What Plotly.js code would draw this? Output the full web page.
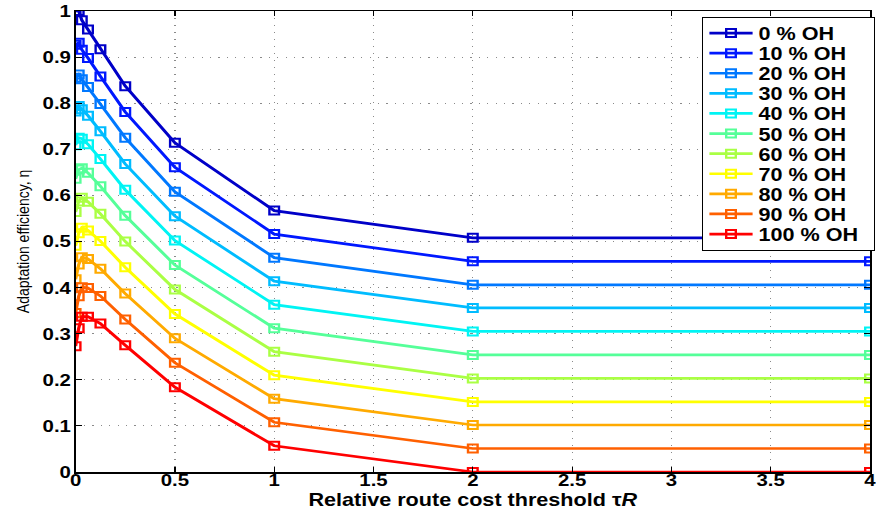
<!DOCTYPE html>
<html>
<head>
<meta charset="utf-8">
<script src="https://cdn.plot.ly/plotly-3.0.1.min.js"></script>
<style>
html,body{margin:0;padding:0;background:#fff;overflow:hidden;}
#chart{width:730px;height:515px;transform:scaleX(1.2);transform-origin:0 0;}
</style>
</head>
<body>
<div id="chart"></div>
<script>
// x values: relative route cost threshold
const tau = [0, 1/64, 1/32, 1/16, 1/8, 1/4, 1/2, 1, 2, 4];

const seriesNames = ["0 % OH","10 % OH","20 % OH","30 % OH","40 % OH","50 % OH","60 % OH","70 % OH","80 % OH","90 % OH","100 % OH"];

const oh0   = [1.000, 1.000, 0.980, 0.960, 0.917, 0.837, 0.714, 0.567, 0.508, 0.508];
const oh10  = [0.927, 0.931, 0.916, 0.898, 0.858, 0.781, 0.661, 0.516, 0.457, 0.457];
const oh20  = [0.855, 0.862, 0.852, 0.835, 0.798, 0.725, 0.608, 0.465, 0.406, 0.406];
const oh30  = [0.782, 0.794, 0.787, 0.773, 0.739, 0.668, 0.555, 0.414, 0.356, 0.356];
const oh40  = [0.709, 0.725, 0.723, 0.711, 0.679, 0.612, 0.502, 0.363, 0.305, 0.305];
const oh50  = [0.636, 0.656, 0.659, 0.649, 0.620, 0.556, 0.449, 0.312, 0.254, 0.254];
const oh60  = [0.564, 0.587, 0.595, 0.586, 0.560, 0.500, 0.396, 0.261, 0.203, 0.203];
const oh70  = [0.491, 0.518, 0.530, 0.524, 0.501, 0.444, 0.343, 0.210, 0.152, 0.152];
const oh80  = [0.418, 0.450, 0.466, 0.462, 0.441, 0.387, 0.290, 0.159, 0.102, 0.102];
const oh90  = [0.345, 0.381, 0.401, 0.399, 0.382, 0.331, 0.237, 0.108, 0.051, 0.051];
const oh100 = [0.273, 0.312, 0.337, 0.337, 0.322, 0.275, 0.184, 0.057, 0.000, 0.000];

const allSeries = [oh0, oh10, oh20, oh30, oh40, oh50, oh60, oh70, oh80, oh90, oh100];
const colors = ["#0000c8","#0018ff","#0078ff","#00bcff","#00f4f4","#55ff99","#aaff44","#ffff00","#ffaa00","#ff6000","#ff0000"];

const xTicks = [0, 0.5, 1, 1.5, 2, 2.5, 3, 3.5, 4];
const xTickText = ["0","0.5","1","1.5","2","2.5","3","3.5","4"];
const yTicks = [0, 0.1, 0.2, 0.3, 0.4, 0.5, 0.6, 0.7, 0.8, 0.9, 1];
const yTickText = ["0","0.1","0.2","0.3","0.4","0.5","0.6","0.7","0.8","0.9","1"];

const FONT = "Liberation Sans, Arial, sans-serif";
const LEGEND_STEP = 20.1;   // vertical spacing of legend entries (px)
const LEGEND_WIDTH = 143;   // legend box width (px, before horizontal stretch)

const traces = allSeries.map((vals, i) => ({
  x: tau,
  y: vals,
  name: seriesNames[i],
  type: "scatter",
  mode: "lines+markers",
  line: {color: colors[i], width: 2.7},
  marker: {symbol: "square-open", size: 8, color: colors[i], line: {width: 2, color: colors[i]}},
  cliponaxis: true
}));

const axisCommon = {
  tickmode: "array",
  ticks: "inside",
  ticklen: 5,
  tickwidth: 1,
  tickcolor: "#000",
  tickfont: {family: FONT, size: 17, weight: "bold", color: "#000"},
  ticklabeloverflow: "allow",
  showline: true,
  linecolor: "#000",
  linewidth: 1.5,
  mirror: "ticks",
  showgrid: true,
  gridcolor: "#8a8a8a",
  griddash: "1px,6px",
  gridwidth: 1,
  zeroline: false,
  automargin: false
};

const layout = {
  width: 730,
  height: 515,
  margin: {l: 62.5, r: 5, t: 11, b: 43, pad: 0, autoexpand: false},
  paper_bgcolor: "#ffffff",
  plot_bgcolor: "#ffffff",
  showlegend: true,
  font: {family: FONT, color: "#000"},
  xaxis: Object.assign({}, axisCommon, {
    range: [0, 4],
    tickvals: xTicks,
    ticktext: xTickText,
    ticklabelstandoff: -8,
    title: {text: "Relative route cost threshold τ<i>R</i>", font: {family: FONT, size: 18, weight: "bold", color: "#000"}, standoff: 4}
  }),
  yaxis: Object.assign({}, axisCommon, {
    range: [0, 1],
    tickvals: yTicks,
    ticktext: yTickText,
    ticklabelstandoff: -1,
    title: {text: "Adaptation efficiency, η", font: {family: FONT, size: 14, color: "#000"}, standoff: 7}
  }),
  legend: {
    x: 1.0063,
    xanchor: "right",
    y: 0.987,
    yanchor: "top",
    bgcolor: "#ffffff",
    bordercolor: "#000",
    borderwidth: 1,
    font: {family: FONT, size: 18, weight: "bold", color: "#000"},
    tracegroupgap: 0,
    itemwidth: 36
  }
};

function parseT(s) {
  const m = /translate\(\s*([-\d.e]+)[ ,]+([-\d.e]+)\s*\)/.exec(s || "");
  return m ? [parseFloat(m[1]), parseFloat(m[2])] : [0, 0];
}

Plotly.newPlot("chart", traces, layout, {displayModeBar: false, staticPlot: true}).then(function (gd) {
  const leg = gd.querySelector(".legend");
  if (!leg) return;
  const items = Array.from(leg.querySelectorAll("g.traces"));
  if (items.length < 2) return;
  const pos = items.map(it => parseT(it.getAttribute("transform")));
  const oldStep = pos[1][1] - pos[0][1];
  const diff = oldStep - LEGEND_STEP;
  const firstY = pos[0][1] - diff / 2;
  items.forEach((it, i) => it.setAttribute("transform", "translate(" + pos[i][0] + "," + (firstY + i * LEGEND_STEP) + ")"));
  const bg = leg.querySelector("rect.bg");
  if (bg) {
    const h = parseFloat(bg.getAttribute("height"));
    bg.setAttribute("height", h - diff * items.length);
    const w = parseFloat(bg.getAttribute("width"));
    const dw = LEGEND_WIDTH - w;
    bg.setAttribute("width", LEGEND_WIDTH);
    const lt = parseT(leg.getAttribute("transform"));
    leg.setAttribute("transform", "translate(" + (lt[0] - dw) + "," + lt[1] + ")");
  }
});
</script>
</body>
</html>
